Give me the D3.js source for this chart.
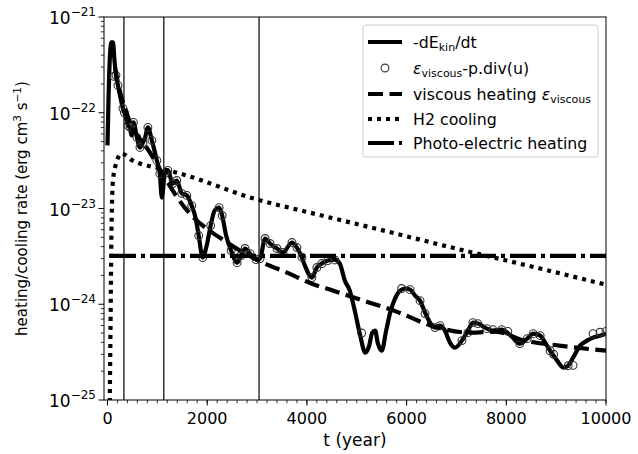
<!DOCTYPE html>
<html>
<head>
<meta charset="utf-8">
<script src="https://cdn.jsdelivr.net/npm/d3@7"></script>
<style>
  body { margin: 0; background: #fff; }
  svg { font-family: "DejaVu Sans", sans-serif; }
</style>
</head>
<body>
<div class="chart"></div>
<script>
// -dE_kin/dt (solid)
var tKin = [0, 20, 50, 80, 110, 140, 170, 210, 250, 310, 370, 410, 450, 480, 520, 590, 650, 710, 750, 810,
    890, 990, 1050, 1090, 1150, 1210, 1310, 1390, 1490, 1590, 1690, 1770, 1830, 1910, 1990, 2070, 2150, 2240,
    2300, 2380, 2480, 2600, 2680, 2760, 2860, 2980, 3060, 3160, 3260, 3400, 3520, 3700, 3800, 3900, 3960,
    4100, 4200, 4300, 4420, 4560, 4660, 4760, 4860, 4960, 5070, 5170, 5250, 5310, 5370, 5420, 5500, 5590,
    5670, 5770, 5870, 5970, 6070, 6170, 6270, 6370, 6470, 6570, 6670, 6770, 6870, 6970, 7110, 7230, 7330,
    7430, 7610, 7730, 7910, 8030, 8130, 8270, 8420, 8540, 8680, 8780, 8880, 9020, 9140, 9240, 9340, 9480,
    9620, 9740, 9880, 10000];
var dEkin = [4.56e-23, 1.35e-22, 3.98e-22, 5.44e-22, 5.44e-22, 3.53e-22, 2.46e-22, 1.93e-22, 1.52e-22,
    1.11e-22, 8.94e-23, 7.37e-23, 7.03e-23, 5.80e-23, 7.92e-23, 5.52e-23, 4.34e-23, 4.90e-23, 5.39e-23,
    7.03e-23, 5.14e-23, 3.18e-23, 2.32e-23, 1.30e-23, 2.32e-23, 2.50e-23, 1.82e-23, 1.96e-23, 1.44e-23,
    1.37e-23, 1.07e-23, 7.86e-24, 5.22e-24, 3.07e-24, 4.10e-24, 6.64e-24, 9.53e-24, 1.02e-23, 8.45e-24,
    5.22e-24, 3.64e-24, 2.72e-24, 3.23e-24, 3.82e-24, 3.38e-24, 2.93e-24, 3.00e-24, 4.86e-24, 4.31e-24,
    3.82e-24, 3.47e-24, 4.41e-24, 3.91e-24, 3.07e-24, 2.54e-24, 1.90e-24, 2.42e-24, 2.66e-24, 2.86e-24,
    2.93e-24, 2.66e-24, 1.77e-24, 1.39e-24, 8.58e-25, 4.70e-25, 3.12e-25, 3.70e-25, 5.05e-25, 5.30e-25,
    3.97e-25, 3.27e-25, 5.30e-25, 8.18e-25, 1.15e-24, 1.39e-24, 1.46e-24, 1.42e-24, 1.23e-24, 1.09e-24,
    8.18e-25, 6.43e-25, 5.70e-25, 5.98e-25, 5.30e-25, 3.97e-25, 3.52e-25, 4.17e-25, 5.30e-25, 6.43e-25,
    6.28e-25, 5.56e-25, 5.30e-25, 5.43e-25, 5.00e-25, 4.48e-25, 3.88e-25, 4.37e-25, 4.93e-25, 4.70e-25,
    3.97e-25, 3.27e-25, 2.58e-25, 2.18e-25, 2.28e-25, 2.77e-25, 3.70e-25, 4.17e-25, 4.48e-25, 4.70e-25,
    4.93e-25];

// eps_viscous - p.div(u) (open circles)
var tCirc = [130, 170, 210, 310, 340, 410, 450, 520, 590, 650, 710, 810, 890, 990, 1050, 1150, 1210, 1310,
    1390, 1490, 1590, 1690, 1830, 1910, 2070, 2240, 2300, 2480, 2600, 2680, 2760, 2860, 2980, 3060, 3160,
    3260, 3400, 3520, 3700, 3800, 3900, 4100, 4200, 4300, 4420, 4560, 5100, 5900, 6070, 6270, 6370, 6570,
    6670, 7110, 7230, 7330, 7430, 7610, 7730, 7910, 8030, 8270, 8420, 8540, 8680, 8880, 8950, 9240, 9340,
    9740, 9880, 10000];
var vCirc = [2.4e-22, 2.46e-22, 1.93e-22, 1.11e-22, 1.0e-22, 7.37e-23, 7.03e-23, 7.92e-23, 5.52e-23,
    4.34e-23, 4.90e-23, 7.03e-23, 5.14e-23, 3.18e-23, 2.32e-23, 2.32e-23, 2.50e-23, 1.82e-23, 1.96e-23,
    1.44e-23, 1.37e-23, 1.07e-23, 5.22e-24, 3.07e-24, 6.64e-24, 1.02e-23, 8.45e-24, 3.64e-24, 2.72e-24,
    3.23e-24, 3.82e-24, 3.38e-24, 2.93e-24, 3.0e-24, 4.86e-24, 4.31e-24, 3.82e-24, 3.47e-24, 4.41e-24,
    3.91e-24, 3.1e-24, 1.90e-24, 2.42e-24, 2.66e-24, 2.86e-24, 2.9e-24, 5.0e-25, 1.46e-24, 1.42e-24,
    1.09e-24, 8.0e-25, 5.70e-25, 5.98e-25, 4.17e-25, 5.05e-25, 6.43e-25, 6.28e-25, 5.56e-25, 5.43e-25,
    5.43e-25, 5.2e-25, 3.88e-25, 4.37e-25, 4.93e-25, 4.7e-25, 3.27e-25, 3.0e-25, 2.28e-25, 2.3e-25,
    4.93e-25, 5.1e-25, 5.2e-25];

// viscous heating (dashed)
var tVisc = [150, 200, 400, 850, 1550, 2400, 3120, 3600, 4100, 4520, 5000, 5850, 6490, 7290, 7790, 8360, 8900, 10000];
var vVisc = [3.0e-22, 2.18e-22, 9.38e-23, 3.85e-23, 1.02e-23, 4.41e-24, 2.72e-24, 2.14e-24, 1.64e-24,
    1.39e-24, 1.15e-24, 8.18e-25, 5.98e-25, 5.05e-25, 5.18e-25, 4.17e-25, 3.79e-25, 3.27e-25];

// H2 cooling (dotted)
var tH2 = [40, 60, 80, 110, 180, 280, 500, 1050, 1450, 3000, 4050, 5500, 6870, 8680, 10000];
var vH2 = [5e-26, 5.30e-25, 5.89e-24, 1.96e-23, 3.03e-23, 3.76e-23, 3.18e-23, 2.62e-23, 2.32e-23,
    1.24e-23, 9.08e-24, 5.95e-24, 3.95e-24, 2.36e-24, 1.60e-24];

// photo-electric heating (dash-dot)
var tPE = [50, 10000];
var vPE = [3.2e-24, 3.2e-24];

var vLines = [330, 1130, 3040];

var xTicks = [0, 2000, 4000, 6000, 8000, 10000];
var yTicks = [-25, -24, -23, -22, -21];

var W = 638, H = 454;
var padL = 104, padR = 606, padT = 17, padB = 400;

var x = d3.scaleLinear().domain([-70, 10000]).range([padL, padR]);
var y = d3.scaleLog().domain([1e-25, 1e-21]).range([padB, padT]);

function pairs(ts, vs) {
    return ts.map(function(t, i) { return [t, vs[i]]; });
}

var svg = d3.select(".chart").append("svg")
    .attr("width", W).attr("height", H);

svg.append("defs").append("clipPath").attr("id", "clip")
    .append("rect").attr("x", padL).attr("y", padT)
    .attr("width", padR - padL).attr("height", padB - padT);

var plot = svg.append("g").attr("clip-path", "url(#clip)");

var line = d3.line()
    .x(function(d) { return x(d[0]); })
    .y(function(d) { return y(d[1]); })
    .curve(d3.curveMonotoneX);

// vertical markers
plot.selectAll(".vl").data(vLines).enter().append("line")
    .attr("x1", function(d) { return x(d); }).attr("x2", function(d) { return x(d); })
    .attr("y1", padT).attr("y2", padB)
    .attr("stroke", "#000").attr("stroke-width", 1.2);

plot.append("path").datum(pairs(tKin, dEkin))
    .attr("d", line).attr("fill", "none")
    .attr("stroke", "#000").attr("stroke-width", 4.2).attr("stroke-linejoin", "round");

plot.selectAll(".c").data(pairs(tCirc, vCirc)).enter().append("circle")
    .attr("cx", function(d) { return x(d[0]); })
    .attr("cy", function(d) { return y(d[1]); })
    .attr("r", 3.9)
    .attr("fill", "none").attr("stroke", "#333").attr("stroke-width", 1.1);

plot.append("path").datum(pairs(tVisc, vVisc))
    .attr("d", line).attr("fill", "none")
    .attr("stroke", "#000").attr("stroke-width", 4.2).attr("stroke-dasharray", "15,6.5");

plot.append("path").datum(pairs(tH2, vH2))
    .attr("d", line).attr("fill", "none")
    .attr("stroke", "#000").attr("stroke-width", 4.2).attr("stroke-dasharray", "4,5");

plot.append("path").datum(pairs(tPE, vPE))
    .attr("d", line).attr("fill", "none")
    .attr("stroke", "#000").attr("stroke-width", 4.2).attr("stroke-dasharray", "26,5,4,5");

// frame
svg.append("rect").attr("x", padL).attr("y", padT)
    .attr("width", padR - padL).attr("height", padB - padT)
    .attr("fill", "none").attr("stroke", "#000").attr("stroke-width", 1);

// x axis
var xMinor = d3.range(0, 10001, 200);
svg.selectAll(".xm").data(xMinor).enter().append("line")
    .attr("x1", function(d) { return x(d); }).attr("x2", function(d) { return x(d); })
    .attr("y1", padB).attr("y2", padB + 3.2)
    .attr("stroke", "#000").attr("stroke-width", 0.8);
svg.selectAll(".xt").data(xTicks).enter().append("line")
    .attr("x1", function(d) { return x(d); }).attr("x2", function(d) { return x(d); })
    .attr("y1", padB).attr("y2", padB + 5.5)
    .attr("stroke", "#000").attr("stroke-width", 1);
svg.selectAll(".xl").data(xTicks).enter().append("text")
    .attr("x", function(d) { return x(d); }).attr("y", padB + 24)
    .attr("text-anchor", "middle").attr("font-size", 16)
    .text(function(d) { return d; });
svg.append("text").attr("x", (padL + padR) / 2).attr("y", padB + 46)
    .attr("text-anchor", "middle").attr("font-size", 17).text("t (year)");

// y axis
var yMinor = [];
yTicks.slice(0, -1).forEach(function(e) {
    for (var k = 2; k <= 9; k++) yMinor.push(k * Math.pow(10, e));
});
svg.selectAll(".ym").data(yMinor).enter().append("line")
    .attr("x1", padL - 3.2).attr("x2", padL)
    .attr("y1", function(d) { return y(d); }).attr("y2", function(d) { return y(d); })
    .attr("stroke", "#000").attr("stroke-width", 0.8);
svg.selectAll(".yt").data(yTicks).enter().append("line")
    .attr("x1", padL - 5.5).attr("x2", padL)
    .attr("y1", function(d) { return y(Math.pow(10, d)); }).attr("y2", function(d) { return y(Math.pow(10, d)); })
    .attr("stroke", "#000").attr("stroke-width", 1);
var yl = svg.selectAll(".yl").data(yTicks).enter().append("text")
    .attr("x", padL - 8).attr("y", function(d) { return y(Math.pow(10, d)) + 7; })
    .attr("text-anchor", "end").attr("font-size", 17);
yl.append("tspan").text("10");
yl.append("tspan").attr("dy", -8).attr("font-size", 12).text(function(d) { return "\u2212" + (-d); });

var ylab = svg.append("text")
    .attr("transform", "translate(27," + ((padT + padB) / 2) + ") rotate(-90)")
    .attr("text-anchor", "middle").attr("font-size", 15);
ylab.append("tspan").text("heating/cooling rate (erg cm");
ylab.append("tspan").attr("dy", -6).attr("font-size", 10.5).text("3");
ylab.append("tspan").attr("dy", 6).text(" s");
ylab.append("tspan").attr("dy", -6).attr("font-size", 10.5).text("\u22121");
ylab.append("tspan").attr("dy", 6).text(")");

// legend
var lg = svg.append("g");
lg.append("rect").attr("x", 363).attr("y", 25).attr("width", 235).attr("height", 132)
    .attr("rx", 3).attr("fill", "#fff").attr("fill-opacity", 0.8)
    .attr("stroke", "#ccc").attr("stroke-width", 1);
var rowY = [42, 68, 94, 119, 143];
var styles = [null, "circle", "15,6.5", "4,5", "26,5,4,5"];
rowY.forEach(function(ry, i) {
    if (styles[i] === "circle") {
        lg.append("circle").attr("cx", 385).attr("cy", ry).attr("r", 3.9)
            .attr("fill", "none").attr("stroke", "#333").attr("stroke-width", 1.1);
    } else {
        var l = lg.append("line").attr("x1", 368).attr("x2", 402).attr("y1", ry).attr("y2", ry)
            .attr("stroke", "#000").attr("stroke-width", 4.2);
        if (styles[i]) l.attr("stroke-dasharray", styles[i]);
    }
});
function legText(ry) {
    return lg.append("text").attr("x", 413).attr("y", ry + 6).attr("font-size", 15.8);
}
var t0 = legText(rowY[0]);
t0.append("tspan").text("-dE");
t0.append("tspan").attr("dy", 3).attr("font-size", 11).text("kin");
t0.append("tspan").attr("dy", -3).text("/dt");
var t1 = legText(rowY[1]);
t1.append("tspan").attr("font-style", "italic").text("\u03b5");
t1.append("tspan").attr("dy", 3).attr("font-size", 11).text("viscous");
t1.append("tspan").attr("dy", -3).text("-p.div(u)");
var t2 = legText(rowY[2]);
t2.append("tspan").text("viscous heating ");
t2.append("tspan").attr("font-style", "italic").text("\u03b5");
t2.append("tspan").attr("dy", 3).attr("font-size", 11).text("viscous");
legText(rowY[3]).text("H2 cooling");
legText(rowY[4]).text("Photo-electric heating");
</script>
</body>
</html>
